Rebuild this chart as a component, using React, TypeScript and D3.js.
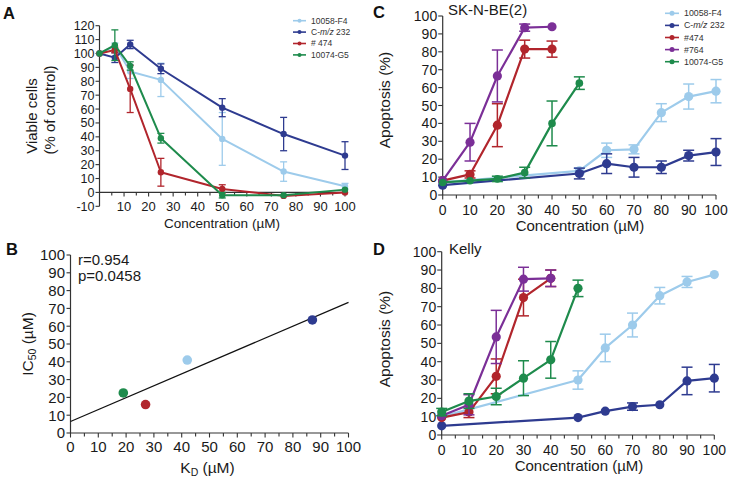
import React from "react";
import * as d3 from "d3";

const FONT = "'Liberation Sans', Arial, Helvetica, sans-serif";
const COL_F4 = "#9dcbeb";
const COL_CMZ = "#2e3b90";
const COL_474 = "#b1252c";
const COL_764 = "#7b2f97";
const COL_G5 = "#1e8b4c";
const AXIS = "#333";
const TXT = "#1a1a1a";

// ---------- Panel A : viability ----------
const aConc = [0, 6.25, 12.5, 25, 50, 75, 100];
const aF4 = [100, 105.5, 87, 81, 38.5, 15, 4.5];
const aF4Err = [0, 2, 5, 12, 19, 7, 2];
const aCmz = [100, 97, 106.5, 89, 61, 42, 26.5];
const aCmzErr = [0, 3.5, 3, 3.5, 6.5, 12, 10];
const a474 = [100, 102.5, 74.5, 14.5, 2.5, -2.5, 0];
const a474Err = [0, 2, 17, 10, 3, 1, 1];
const aG5 = [100, 106, 91, 39, -2, -2, 2];
const aG5Err = [0, 11, 3, 3.5, 2, 1, 1];
const aYTicks = [-10, 0, 10, 20, 30, 40, 50, 60, 70, 80, 90, 100, 110, 120];
const aXTicks = [10, 20, 30, 40, 50, 60, 70, 80, 90, 100];

// ---------- Panel B : KD vs IC50 ----------
const bNames = ["10058-F4", "C-m/z 232", "#474", "10074-G5"];
const bKd = [42, 87, 27, 19];
const bIc50 = [41, 63.5, 16, 22.5];
const bColors = [COL_F4, COL_CMZ, COL_474, COL_G5];
const bTicks = [0, 10, 20, 30, 40, 50, 60, 70, 80, 90, 100];

// ---------- Panel C : SK-N-BE(2) apoptosis ----------
const concShort = [0, 10, 20, 30, 40];
const concG5 = [0, 10, 20, 30, 40, 50];
const concLong = [0, 50, 60, 70, 80, 90, 100];
const c764 = [8, 29.5, 66.5, 93.5, 94];
const c764Err = [1, 10.5, 14.5, 2, 1];
const c474 = [8, 11.5, 39, 81.5, 81.5];
const c474Err = [1, 2, 12, 5, 4.5];
const cG5 = [7, 8, 9, 12.5, 40, 62.5];
const cG5Err = [1, 1, 1.5, 3, 12.5, 3.5];
const cF4 = [7, 13.5, 25, 25.5, 46, 55, 58];
const cF4Err = [1, 1.5, 4, 2.5, 5, 7, 6.5];
const cCmz = [5.5, 12, 17.5, 15.5, 15.5, 22, 24];
const cCmzErr = [1, 3, 5.5, 5.5, 3.5, 3, 7.5];

// ---------- Panel D : Kelly apoptosis ----------
const d764 = [10.5, 16.5, 53.5, 85, 85.5];
const d764Err = [1, 5.5, 14.5, 6.5, 4.5];
const d474 = [9.5, 12.5, 32, 75, 85.5];
const d474Err = [1, 3, 9.5, 10, 4.5];
const dG5 = [12.5, 18.5, 21, 31, 41, 80];
const dG5Err = [2, 4, 4.5, 9.5, 10, 4.5];
const dF4 = [10, 30, 47.5, 60, 76, 83.5, 87.5];
const dF4Err = [1, 5, 7.5, 6.5, 4.5, 3, 1];
const dCmz = [5, 9.5, 13, 15.5, 16.5, 29.5, 31];
const dCmzErr = [1, 1, 1, 2, 1, 7.5, 7.5];

const cdTicks = [0, 10, 20, 30, 40, 50, 60, 70, 80, 90, 100];
const minor5 = [5, 15, 25, 35, 45, 55, 65, 75, 85, 95];

type Scale = d3.ScaleLinear<number, number>;

function Series(props: {
  x: Scale; y: Scale; xs: number[]; ys: number[]; errs: number[];
  color: string; r: number; sw: number; cap: number; esw: number;
}) {
  const { x, y, xs, ys, errs, color, r, sw, cap, esw } = props;
  const pts: [number, number][] = xs.map((v, i) => [v, ys[i]]);
  const line = d3.line<[number, number]>().x((d) => x(d[0])).y((d) => y(d[1]));
  return (
    <g>
      <path d={line(pts) || ""} fill="none" stroke={color} strokeWidth={sw} strokeLinejoin="round" />
      {pts.map((p, i) => {
        const e = errs[i];
        if (!e || e < 1.2) return null;
        const cx = x(p[0]);
        const y1 = y(p[1] + e);
        const y2 = y(p[1] - e);
        return (
          <g key={"e" + i} stroke={color} strokeWidth={esw}>
            <line x1={cx} x2={cx} y1={y1} y2={y2} />
            <line x1={cx - cap} x2={cx + cap} y1={y1} y2={y1} />
            <line x1={cx - cap} x2={cx + cap} y1={y2} y2={y2} />
          </g>
        );
      })}
      {pts.map((p, i) => (
        <circle key={"c" + i} cx={x(p[0])} cy={y(p[1])} r={r} fill={color} />
      ))}
    </g>
  );
}

function XAxis(props: {
  x: Scale; yPos: number; ticks: number[]; minor: number[]; fs: number; labelDy: number; len: number;
}) {
  const { x, yPos, ticks, minor, fs, labelDy, len } = props;
  const [d0, d1] = x.domain();
  return (
    <g>
      <line x1={x(d0)} x2={x(d1)} y1={yPos} y2={yPos} stroke={AXIS} strokeWidth={1.2} />
      {ticks.map((t) => (
        <g key={"t" + t}>
          <line x1={x(t)} x2={x(t)} y1={yPos} y2={yPos + len} stroke={AXIS} strokeWidth={1.1} />
          <text x={x(t)} y={yPos + labelDy} fontSize={fs} textAnchor="middle" fill={TXT} fontFamily={FONT}>{t}</text>
        </g>
      ))}
      {minor.map((t) => (
        <line key={"m" + t} x1={x(t)} x2={x(t)} y1={yPos} y2={yPos + len - 1} stroke={AXIS} strokeWidth={1.1} />
      ))}
    </g>
  );
}

function YAxis(props: { y: Scale; xPos: number; ticks: number[]; fs: number; len: number; gap: number }) {
  const { y, xPos, ticks, fs, len, gap } = props;
  const [d0, d1] = y.domain();
  return (
    <g>
      <line x1={xPos} x2={xPos} y1={y(d0)} y2={y(d1)} stroke={AXIS} strokeWidth={1.2} />
      {ticks.map((t) => (
        <g key={"y" + t}>
          <line x1={xPos - len} x2={xPos} y1={y(t)} y2={y(t)} stroke={AXIS} strokeWidth={1.1} />
          <text x={xPos - len - gap} y={y(t)} dy="0.36em" fontSize={fs} textAnchor="end" fill={TXT} fontFamily={FONT}>{t}</text>
        </g>
      ))}
    </g>
  );
}

function Legend(props: { x: number; y: number; dy: number; items: { name: React.ReactNode; color: string }[]; fs: number; r: number; lw: number }) {
  const { x, y, dy, items, fs, r, lw } = props;
  return (
    <g>
      {items.map((it, i) => (
        <g key={i} transform={`translate(${x},${y + i * dy})`}>
          <line x1={0} x2={lw} y1={0} y2={0} stroke={it.color} strokeWidth={1.6} />
          <circle cx={lw / 2} cy={0} r={r} fill={it.color} />
          <text x={lw + 5} y={0} dy="0.35em" fontSize={fs} fill="#333" fontFamily={FONT}>{it.name}</text>
        </g>
      ))}
    </g>
  );
}

const cmzName = (
  <>
    C-<tspan fontStyle="italic">m/z</tspan> 232
  </>
);

export default function App() {
  // Panel A
  const xA = d3.scaleLinear().domain([0, 100]).range([99.5, 345]);
  const yA = d3.scaleLinear().domain([-10, 120]).range([206.3, 25.7]);
  // Panel B
  const xB = d3.scaleLinear().domain([0, 100]).range([70.5, 348.5]);
  const yB = d3.scaleLinear().domain([0, 100]).range([433, 255]);
  // Panel C
  const xC = d3.scaleLinear().domain([0, 100]).range([442.7, 716]);
  const yC = d3.scaleLinear().domain([0, 100]).range([195, 16]);
  // Panel D
  const xD = d3.scaleLinear().domain([0, 100]).range([441.7, 714.3]);
  const yD = d3.scaleLinear().domain([0, 100]).range([435, 251.7]);

  // regression for B
  const mx = d3.mean(bKd)!;
  const my = d3.mean(bIc50)!;
  const sxy = d3.sum(bKd.map((v, i) => (v - mx) * (bIc50[i] - my)));
  const sxx = d3.sum(bKd.map((v) => (v - mx) ** 2));
  const slope = sxy / sxx;
  const icpt = my - slope * mx;
  const fitX = [0, 100];

  const cdStyle = { r: 4.6, sw: 2.2, cap: 5.5, esw: 1.5 };
  const aStyle = { r: 3.2, sw: 2, cap: 3.5, esw: 1.3 };

  return (
    <svg width={731} height={479} style={{ position: "absolute", left: 0, top: 0, background: "#fff" }} fontFamily={FONT}>
      <rect width={731} height={479} fill="#fff" />
      {/* ---------------- Panel A ---------------- */}
      <text x={3} y={19.3} fontSize={16.5} fontWeight="bold" fill="#111">A</text>
      <YAxis y={yA} xPos={xA(0)} ticks={aYTicks} fs={12.5} len={4} gap={1} />
      <XAxis x={xA} yPos={yA(0)} ticks={aXTicks} minor={minor5} fs={13} labelDy={19} len={4} />
      <text transform={`translate(37,116) rotate(-90)`} fontSize={15} textAnchor="middle" fill={TXT}>Viable cells</text>
      <text transform={`translate(55,110) rotate(-90)`} fontSize={15} textAnchor="middle" fill={TXT}>(% of control)</text>
      <text x={222} y={228} fontSize={13.5} textAnchor="middle" fill={TXT}>Concentration (µM)</text>
      <Series x={xA} y={yA} xs={aConc} ys={aF4} errs={aF4Err} color={COL_F4} {...aStyle} />
      <Series x={xA} y={yA} xs={aConc} ys={aCmz} errs={aCmzErr} color={COL_CMZ} {...aStyle} />
      <Series x={xA} y={yA} xs={aConc} ys={a474} errs={a474Err} color={COL_474} {...aStyle} />
      <Series x={xA} y={yA} xs={aConc} ys={aG5} errs={aG5Err} color={COL_G5} {...aStyle} />
      <Legend x={293} y={20.7} dy={11.4} fs={8.5} r={2} lw={13}
        items={[
          { name: "10058-F4", color: COL_F4 },
          { name: cmzName, color: COL_CMZ },
          { name: "# 474", color: COL_474 },
          { name: "10074-G5", color: COL_G5 },
        ]} />

      {/* ---------------- Panel B ---------------- */}
      <text x={6} y={255} fontSize={16.5} fontWeight="bold" fill="#111">B</text>
      <YAxis y={yB} xPos={xB(0)} ticks={bTicks} fs={15} len={4} gap={1.5} />
      <XAxis x={xB} yPos={yB(0)} ticks={bTicks} minor={minor5} fs={15} labelDy={18.5} len={4.5} />
      <text transform={`translate(33,344) rotate(-90)`} fontSize={15.5} textAnchor="middle" fill={TXT}>
        IC<tspan fontSize={10.5} dy={3}>50</tspan><tspan dy={-3}> (µM)</tspan>
      </text>
      <text x={207.5} y={472.5} fontSize={15.5} textAnchor="middle" fill={TXT}>
        K<tspan fontSize={10.5} dy={3}>D</tspan><tspan dy={-3}> (µM)</tspan>
      </text>
      <text x={78} y={265} fontSize={15} fill={TXT}>r=0.954</text>
      <text x={78} y={281} fontSize={15} fill={TXT}>p=0.0458</text>
      <line x1={xB(fitX[0])} y1={yB(icpt + slope * fitX[0])} x2={xB(fitX[1])} y2={yB(icpt + slope * fitX[1])} stroke="#111" strokeWidth={1.2} />
      {bKd.map((v, i) => (
        <circle key={bNames[i]} cx={xB(v)} cy={yB(bIc50[i])} r={4.8} fill={bColors[i]} />
      ))}

      {/* ---------------- Panel C ---------------- */}
      <text x={373} y={18.3} fontSize={16.5} fontWeight="bold" fill="#111">C</text>
      <text x={448} y={15} fontSize={15} fill={TXT}>SK-N-BE(2)</text>
      <YAxis y={yC} xPos={xC(0)} ticks={cdTicks} fs={14} len={4.5} gap={1} />
      <XAxis x={xC} yPos={yC(0)} ticks={cdTicks} minor={minor5} fs={14} labelDy={20} len={4.5} />
      <text transform={`translate(390,100) rotate(-90)`} fontSize={15.5} textAnchor="middle" fill={TXT}>Apoptosis (%)</text>
      <text x={580} y={231} fontSize={15} textAnchor="middle" fill={TXT}>Concentration (µM)</text>
      <Series x={xC} y={yC} xs={concLong} ys={cF4} errs={cF4Err} color={COL_F4} {...cdStyle} />
      <Series x={xC} y={yC} xs={concLong} ys={cCmz} errs={cCmzErr} color={COL_CMZ} {...cdStyle} />
      <Series x={xC} y={yC} xs={concShort} ys={c474} errs={c474Err} color={COL_474} {...cdStyle} />
      <Series x={xC} y={yC} xs={concShort} ys={c764} errs={c764Err} color={COL_764} {...cdStyle} />
      <Series x={xC} y={yC} xs={concG5} ys={cG5} errs={cG5Err} color={COL_G5} {...cdStyle} r={3.8} />
      <Legend x={665} y={13.3} dy={12.1} fs={8.8} r={2.5} lw={14}
        items={[
          { name: "10058-F4", color: COL_F4 },
          { name: cmzName, color: COL_CMZ },
          { name: "#474", color: COL_474 },
          { name: "#764", color: COL_764 },
          { name: "10074-G5", color: COL_G5 },
        ]} />

      {/* ---------------- Panel D ---------------- */}
      <text x={373} y={255} fontSize={16.5} fontWeight="bold" fill="#111">D</text>
      <text x={449} y={253.5} fontSize={15} fill={TXT}>Kelly</text>
      <YAxis y={yD} xPos={xD(0)} ticks={cdTicks} fs={14} len={4.5} gap={1} />
      <XAxis x={xD} yPos={yD(0)} ticks={cdTicks} minor={minor5} fs={14} labelDy={19.5} len={4.5} />
      <text transform={`translate(390,339) rotate(-90)`} fontSize={15.5} textAnchor="middle" fill={TXT}>Apoptosis (%)</text>
      <text x={579} y={471} fontSize={15} textAnchor="middle" fill={TXT}>Concentration (µM)</text>
      <Series x={xD} y={yD} xs={concLong} ys={dF4} errs={dF4Err} color={COL_F4} {...cdStyle} />
      <Series x={xD} y={yD} xs={concLong} ys={dCmz} errs={dCmzErr} color={COL_CMZ} {...cdStyle} />
      <Series x={xD} y={yD} xs={concShort} ys={d474} errs={d474Err} color={COL_474} {...cdStyle} />
      <Series x={xD} y={yD} xs={concShort} ys={d764} errs={d764Err} color={COL_764} {...cdStyle} />
      <Series x={xD} y={yD} xs={concG5} ys={dG5} errs={dG5Err} color={COL_G5} {...cdStyle} />
    </svg>
  );
}
